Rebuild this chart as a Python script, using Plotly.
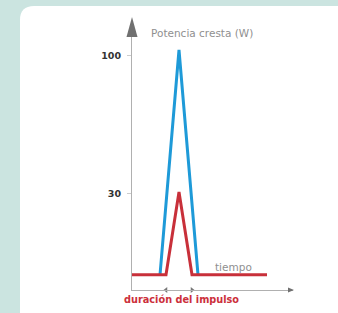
import plotly.graph_objects as go

# ---- data (arbitrary time units, power in W) ----
red_t = [0, 34, 47, 60, 135]
red_p = [-11, -11, 31, -11, -11]
blue_t = [28, 47, 66]
blue_p = [-11, 103, -11]
pulse_marks_t = [34, 60]
tick_vals = [100, 30]
tick_text = ["100", "30"]

W, H = 338, 313
L, R, T, B = 132, 293, 36, 290  # plot-area pixel box


def px(x):
    return (x - L) / (R - L)


def py(y):
    return (B - y) / (B - T)


fig = go.Figure()
fig.add_trace(go.Scatter(x=blue_t, y=blue_p, mode="lines",
                         line=dict(color="#1e9ad8", width=3), hoverinfo="skip"))
fig.add_trace(go.Scatter(x=red_t, y=red_p, mode="lines",
                         line=dict(color="#c8303a", width=3), hoverinfo="skip"))
fig.add_trace(go.Scatter(x=pulse_marks_t, y=[-18.7, -18.7], mode="markers",
                         marker=dict(symbol=["triangle-left", "triangle-right"], size=5,
                                     color="#777"),
                         cliponaxis=False, hoverinfo="skip"))

# card with rounded top-left corner
x0, x1 = px(20), px(360)
y0, y1 = py(330), py(6)
rx, ry = 14 / (R - L), 14 / (B - T)
card = (f"M {x0},{y0} L {x0},{y1 - ry} Q {x0},{y1} {x0 + rx},{y1} "
        f"L {x1},{y1} L {x1},{y0} Z")
shapes = [dict(type="path", path=card, xref="paper", yref="paper",
               fillcolor="white", line=dict(width=0), layer="below")]
# y-axis arrow head
shapes.append(dict(type="path",
                   path=f"M {px(126.5)},{py(37)} L {px(137.5)},{py(37)} L {px(132)},{py(17)} Z",
                   xref="paper", yref="paper", fillcolor="#707070", line=dict(width=0)))
# x-axis arrow head
shapes.append(dict(type="path",
                   path=f"M {px(288)},{py(287.5)} L {px(294)},{py(290)} L {px(288)},{py(292.5)} Z",
                   xref="paper", yref="paper", fillcolor="#707070", line=dict(width=0)))

annotations = [
    dict(text="Potencia cresta (W)", x=px(149), y=py(33), xref="paper", yref="paper",
         xanchor="left", yanchor="middle", showarrow=False,
         font=dict(family="DejaVu Sans", size=10.5, color="#8f8f8f")),
    dict(text="tiempo", x=px(213), y=py(267), xref="paper", yref="paper",
         xanchor="left", yanchor="middle", showarrow=False,
         font=dict(family="DejaVu Sans", size=10.5, color="#8f8f8f")),
    dict(text="<b>duración del impulso</b>", x=px(122), y=py(299), xref="paper", yref="paper",
         xanchor="left", yanchor="middle", showarrow=False,
         font=dict(family="DejaVu Sans", size=9.75, color="#cc303b")),
]

fig.update_layout(
    width=W, height=H,
    margin=dict(l=L, r=W - R, t=T, b=H - B, pad=0),
    paper_bgcolor="#cbe4e0", plot_bgcolor="rgba(0,0,0,0)",
    showlegend=False, shapes=shapes, annotations=annotations,
    xaxis=dict(range=[0, R - L], showgrid=False, zeroline=False, showticklabels=False,
               showline=True, linecolor="#b0b0b0", linewidth=1, fixedrange=True),
    yaxis=dict(range=[-18.7, 110.1], showgrid=False, zeroline=False,
               tickvals=tick_vals, ticktext=tick_text, ticks="outside", ticklen=4,
               tickcolor="#cccccc", showline=True, linecolor="#b0b0b0", linewidth=1,
               ticklabelstandoff=4,
               tickfont=dict(family="DejaVu Sans", size=9.5, color="#333333", weight="bold"),
               fixedrange=True),
)

fig.write_html("out.html", config={"displayModeBar": False},
               post_script="document.body.style.margin='0';document.body.style.overflow='hidden';")
